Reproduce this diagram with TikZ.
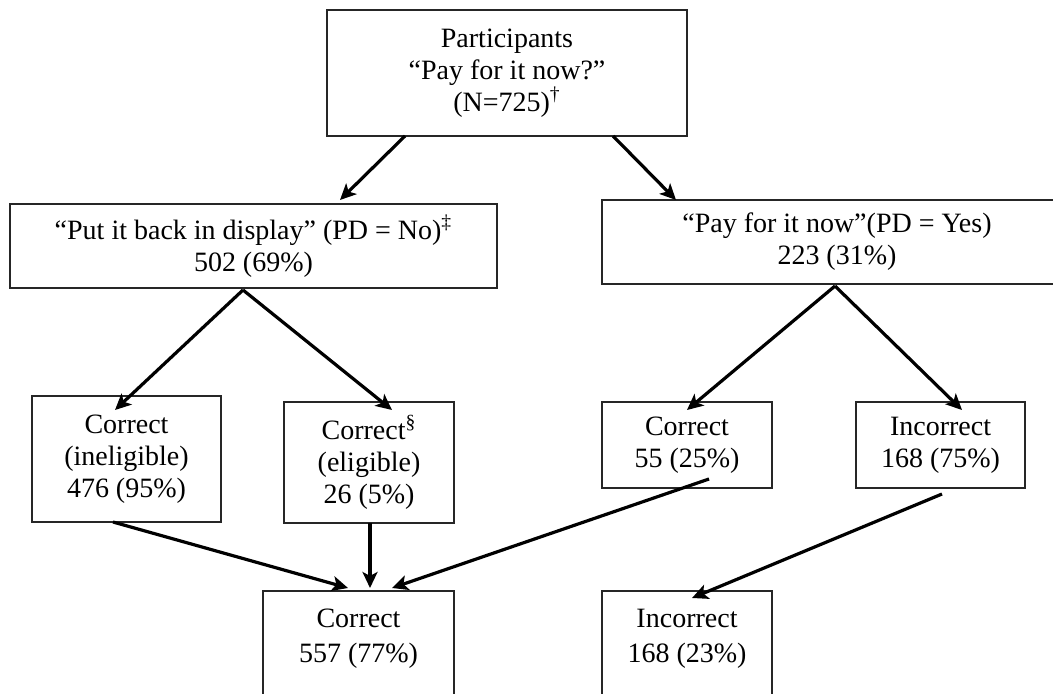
\documentclass[tikz,border=0pt]{standalone}
\usepackage{fontspec}
\setmainfont{Liberation Serif}
\usetikzlibrary{arrows.meta,calc}
\tikzset{
  box/.style={draw=black!85, line width=0.7pt, outer sep=0pt, inner sep=0pt, align=center,
    font=\fontsize{14}{16}\selectfont},
  arr/.style={line width=1.6pt, -{Stealth[length=8pt,width=7.5pt,inset=2pt]}},
}
\begin{document}
\begin{tikzpicture}[x=0.5pt,y=-0.5pt]
\useasboundingbox (0,0) rectangle (1053,694);
% level 0
\node[box, minimum width=180pt, minimum height=63pt] (top) at (507,73)
  {Participants\\“Pay for it now?”\\(N=725)\textsuperscript{†}};
% level 1
\node[box, minimum width=243.5pt, minimum height=42pt] (b2) at (253.5,246)
  {“Put it back in display” (PD = No)\textsuperscript{‡}\\502 (69\%)};
\node[box, minimum width=235pt, minimum height=42pt] (b3) at (837,242)
  {“Pay for it now”(PD = Yes)\\223 (31\%)};
% level 2
\node[box, minimum width=94.5pt, minimum height=63pt] (A) at (126.5,459)
  {Correct\\(ineligible)\\476 (95\%)};
\node[box, minimum width=85pt, minimum height=60.5pt] (B) at (369,462.5)
  {Correct\textsuperscript{§}\\(eligible)\\26 (5\%)};
\node[box, minimum width=85pt, minimum height=43pt] (C) at (687,445)
  {Correct\\55 (25\%)};
\node[box, minimum width=84.5pt, minimum height=43pt] (D) at (940.5,445)
  {Incorrect\\168 (75\%)};
% level 3 (cut off at the bottom)
\node[box, minimum width=95.5pt, anchor=north] (E) at (358.5,591)
  {\rule{0pt}{18pt}Correct\\[1.5pt]557 (77\%)\rule[-40pt]{0pt}{0pt}};
\node[box, minimum width=85pt, anchor=north] (F) at (687,591)
  {\rule{0pt}{18pt}Incorrect\\[1.5pt]168 (23\%)\rule[-40pt]{0pt}{0pt}};
% connectors
\draw[arr] ($(top.south)+(-102,0)$) -- ($(b2.north)+(86.5,-4)$);
\draw[arr] ($(top.south)+(106,0)$) -- ($(b3.north)+(-161,0)$);
\draw[arr] ($(b2.south)+(-10.5,2)$) -- ($(A.north)+(-11.5,14)$);
\draw[arr] ($(b2.south)+(-10.5,2)$) -- ($(B.north)+(23,8)$);
\draw[arr] ($(b3.south)+(-2,2)$) -- ($(C.north)+(0,8)$);
\draw[arr] ($(b3.south)+(-2,2)$) -- ($(D.north)+(21.5,8)$);
\draw[arr] ($(A.south)+(-13.5,0)$) -- ($(E.north)+(-10.5,-3)$);
\draw[arr] ($(B.south)+(1,0)$) -- ($(E.north)+(11.5,-3)$);
\draw[arr] ($(C.south)+(22,-9)$) -- ($(E.north)+(33.5,-3)$);
\draw[arr] ($(D.south)+(1.5,6)$) -- ($(F.north)+(5,7)$);
\end{tikzpicture}
\end{document}
